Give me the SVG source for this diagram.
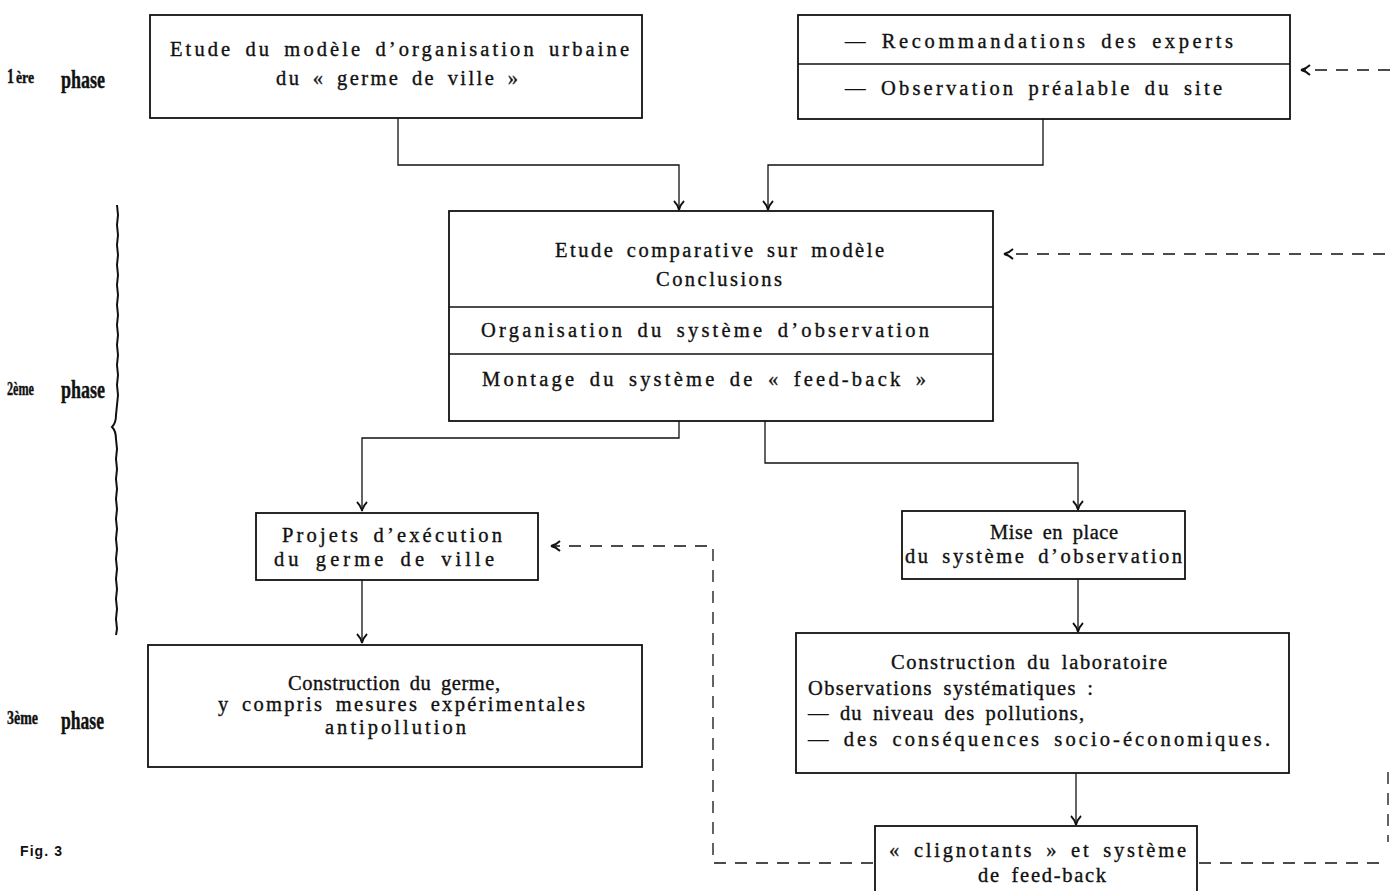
<svg xmlns="http://www.w3.org/2000/svg" width="1390" height="891" viewBox="0 0 1390 891">
<style>
.box{fill:none;stroke:#111;stroke-width:1.8}
.div{stroke:#111;stroke-width:1.5}
.t{font-family:"Liberation Serif",serif;font-size:20.5px;fill:#111;stroke:#111;stroke-width:0.35;word-spacing:4px}
.ph{font-family:"Liberation Serif",serif;font-weight:bold;fill:#111;stroke:#111;stroke-width:0.4}
.ln{fill:none;stroke:#111;stroke-width:1.3}
.dash{fill:none;stroke:#111;stroke-width:1.3;stroke-dasharray:12 9}
</style>
<defs>
<marker id="ah" viewBox="0 0 12 12" refX="11" refY="6" markerWidth="12" markerHeight="12" markerUnits="userSpaceOnUse" orient="auto">
<path d="M2,1 Q6,5 11,6 Q6,7 2,11" fill="none" stroke="#111" stroke-width="1.8"/>
</marker>
</defs>
<rect width="1390" height="891" fill="#fff"/>

<g id="phases">
<text class="ph" x="7" y="83" font-size="21" textLength="7" lengthAdjust="spacingAndGlyphs">1</text>
<text class="ph" x="16" y="83" font-size="16" textLength="18" lengthAdjust="spacingAndGlyphs">ère</text>
<text class="ph" x="61" y="88" font-size="25" textLength="44" lengthAdjust="spacingAndGlyphs">phase</text>
<text class="ph" x="7" y="395" font-size="19" textLength="27" lengthAdjust="spacingAndGlyphs">2ème</text>
<text class="ph" x="61" y="398" font-size="25" textLength="44" lengthAdjust="spacingAndGlyphs">phase</text>
<text class="ph" x="7" y="724" font-size="19" textLength="31" lengthAdjust="spacingAndGlyphs">3ème</text>
<text class="ph" x="61" y="729" font-size="25" textLength="43" lengthAdjust="spacingAndGlyphs">phase</text>
<path d="M117,205 l1,10 l-1,10 l1,10 l-1,10 l1,10 l-1,10 l1,10 l-1,10 l1,10 l-1,10 l1,10 l-1,10 l1,10 l-1,10 l1,10 l-1,10 l1,10 l-1,10 l1,10 l-1,10 l-1,10 q0,8 -4,12 q4,4 4,12 l1,10 l-1,10 l1,10 l-1,10 l1,10 l-1,10 l1,10 l-1,10 l1,10 l-1,10 l1,10 l-1,10 l1,10 l-1,10 l1,10 l-1,10 l1,10 l-1,10 l1,10 l-1,6" fill="none" stroke="#111" stroke-width="2"/>
<text x="20" y="856" font-family="Liberation Sans,Arial,sans-serif" font-weight="bold" font-size="14" fill="#111" textLength="42" lengthAdjust="spacing">Fig. 3</text>
</g>

<g id="n1">
<rect class="box" x="150" y="15" width="492" height="103"/>
<text class="t" x="170" y="56" textLength="459" lengthAdjust="spacing">Etude du modèle d’organisation urbaine</text>
<text class="t" x="276" y="85" textLength="242" lengthAdjust="spacing">du « germe de ville »</text>
</g>

<g id="n2">
<rect class="box" x="798" y="15" width="492" height="104"/>
<line class="div" x1="798" y1="64" x2="1290" y2="64"/>
<text class="t" x="845" y="48" textLength="388" lengthAdjust="spacing">— Recommandations des experts</text>
<text class="t" x="845" y="95" textLength="377" lengthAdjust="spacing">— Observation préalable du site</text>
</g>

<g id="n3">
<rect class="box" x="449" y="211" width="544" height="210"/>
<line class="div" x1="449" y1="307" x2="993" y2="307"/>
<line class="div" x1="449" y1="354" x2="993" y2="354"/>
<text class="t" x="555" y="257" textLength="329" lengthAdjust="spacing">Etude comparative sur modèle</text>
<text class="t" x="656" y="286" textLength="126" lengthAdjust="spacing">Conclusions</text>
<text class="t" x="481" y="337" textLength="448" lengthAdjust="spacing">Organisation du système d’observation</text>
<text class="t" x="482" y="386" textLength="444" lengthAdjust="spacing">Montage du système de « feed-back »</text>
</g>

<g id="n4">
<rect class="box" x="256" y="513" width="282" height="67"/>
<text class="t" x="282" y="542" textLength="220" lengthAdjust="spacing">Projets d’exécution</text>
<text class="t" x="274" y="566" textLength="220" lengthAdjust="spacing">du germe de ville</text>
</g>

<g id="n5">
<rect class="box" x="902" y="511" width="283" height="68"/>
<text class="t" x="990" y="539" textLength="128" lengthAdjust="spacing">Mise en place</text>
<text class="t" x="905" y="563" textLength="277" lengthAdjust="spacing">du système d’observation</text>
</g>

<g id="n6">
<rect class="box" x="148" y="645" width="494" height="122"/>
<text class="t" x="288" y="690" textLength="212" lengthAdjust="spacing">Construction du germe,</text>
<text class="t" x="218" y="711" textLength="367" lengthAdjust="spacing">y compris mesures expérimentales</text>
<text class="t" x="325" y="734" textLength="141" lengthAdjust="spacing">antipollution</text>
</g>

<g id="n7">
<rect class="box" x="796" y="633" width="493" height="140"/>
<text class="t" x="891" y="669" textLength="276" lengthAdjust="spacing">Construction du laboratoire</text>
<text class="t" x="808" y="695" textLength="285" lengthAdjust="spacing">Observations systématiques :</text>
<text class="t" x="808" y="720" textLength="276" lengthAdjust="spacing">— du niveau des pollutions,</text>
<text class="t" x="808" y="746" textLength="462" lengthAdjust="spacing">— des conséquences socio-économiques.</text>
</g>

<g id="n8">
<rect class="box" x="875" y="826" width="322" height="80"/>
<text class="t" x="889" y="857" textLength="297" lengthAdjust="spacing">« clignotants » et système</text>
<text class="t" x="978" y="882" textLength="128" lengthAdjust="spacing">de feed-back</text>
</g>

<g id="connectors">
<path class="ln" d="M398,118 V165 H679 V210" marker-end="url(#ah)"/>
<path class="ln" d="M1043,119 V165 H768 V210" marker-end="url(#ah)"/>
<path class="dash" d="M1390,70 H1301" marker-end="url(#ah)"/>
<path class="dash" d="M1385,254 H1004" marker-end="url(#ah)"/>
<path class="ln" d="M679,421 V438 H362 V511" marker-end="url(#ah)"/>
<path class="ln" d="M765,421 V463 H1078 V510" marker-end="url(#ah)"/>
<path class="ln" d="M362,580 V643" marker-end="url(#ah)"/>
<path class="ln" d="M1078,579 V632" marker-end="url(#ah)"/>
<path class="ln" d="M1076,773 V825" marker-end="url(#ah)"/>
<path class="dash" d="M873,863 H713 V546 H551" marker-end="url(#ah)"/>
<path class="dash" d="M1199,863 H1380"/>
<path class="dash" d="M1388,772 V842" stroke-dasharray="8 10"/>
</g>
</svg>
